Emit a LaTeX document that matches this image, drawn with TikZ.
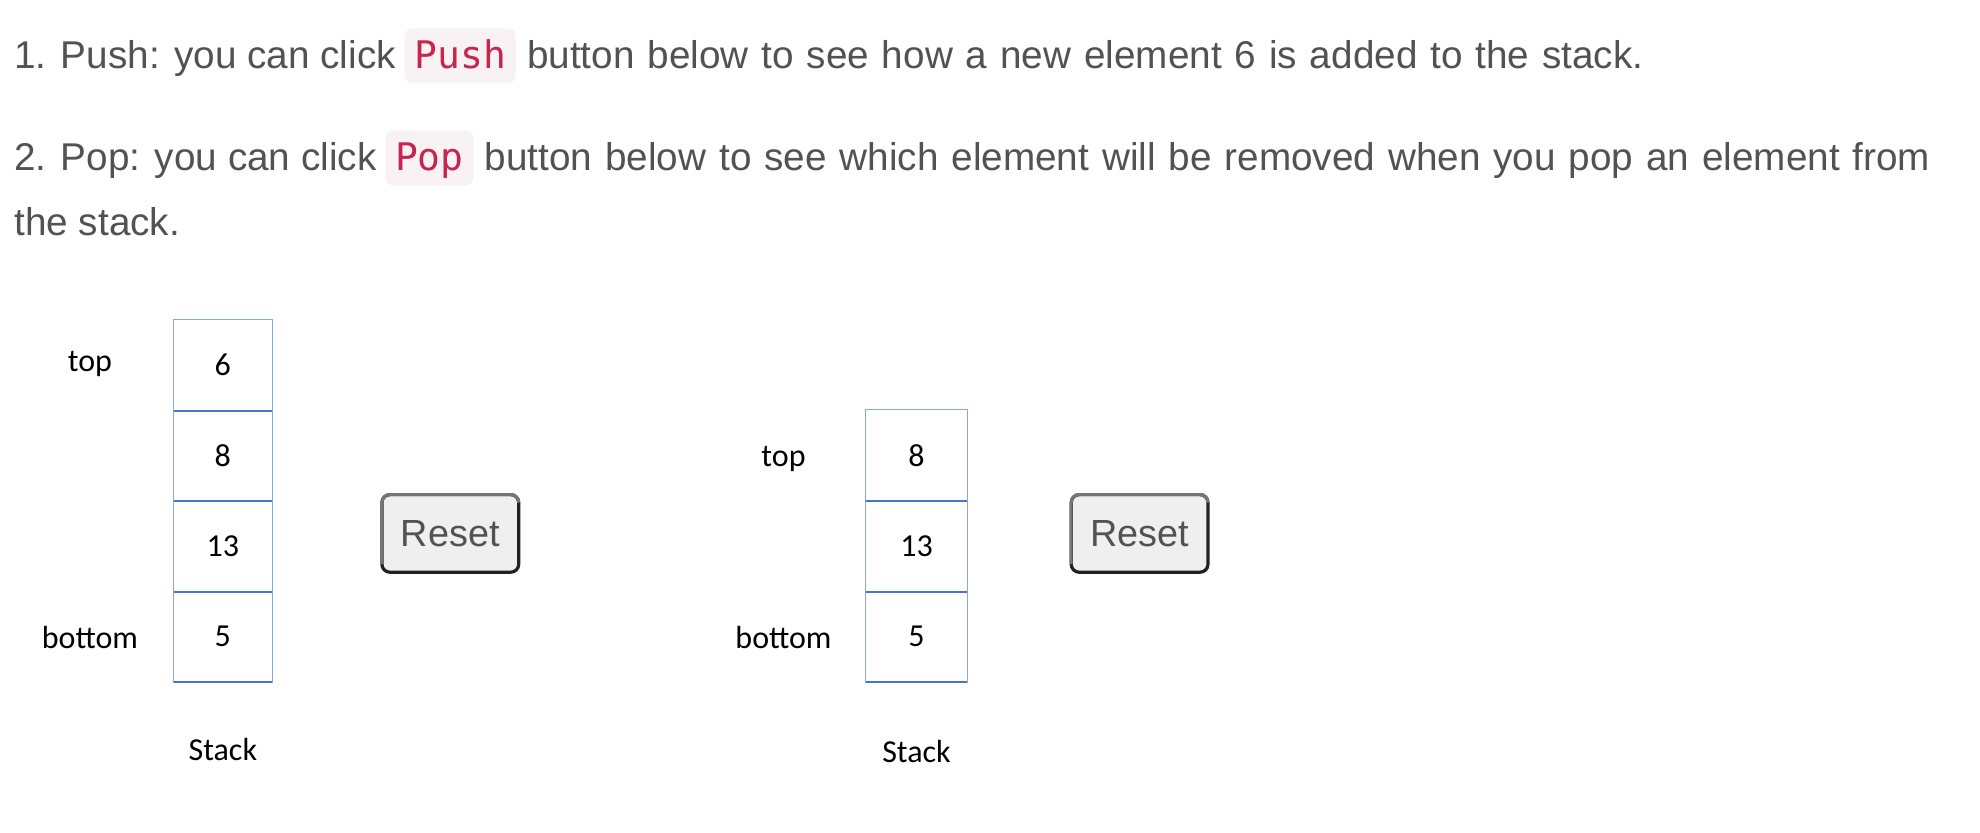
\documentclass[tikz,border=0pt]{standalone}
\usepackage{fontspec}
\setmainfont{Liberation Sans}
\newfontfamily\widefont[WordSpace=1.2]{Liberation Sans}
\newfontfamily\calfont{Carlito}
\newfontfamily\codefont{DejaVu Sans Mono}
\usetikzlibrary{calc}
\definecolor{bodytext}{HTML}{525252}
\definecolor{codefg}{HTML}{C7254E}
\definecolor{codebg}{HTML}{F9F2F4}
\definecolor{cellline}{HTML}{8AA8E6}
\definecolor{cellsep}{HTML}{4D74C8}
\definecolor{btnfill}{HTML}{EFEFEF}
\definecolor{btnlight}{HTML}{767676}
\definecolor{btndark}{HTML}{222222}
\begin{document}
\begin{tikzpicture}[x=0.5pt,y=-0.5pt,
  para/.style={anchor=base west, inner sep=0pt, text=bodytext, font=\fontsize{19.35}{23}\selectfont},
  parawide/.style={para, font=\widefont\fontsize{19.35}{23}\selectfont},
  code/.style={anchor=base west, fill=codebg, text=codefg, rounded corners=4pt, inner xsep=4.9pt, inner ysep=0pt, text height=20pt, text depth=7.5pt, font=\codefont\fontsize{19}{22}\selectfont},
  cellL/.style={minimum width=48.85pt, minimum height=45.25pt, inner sep=0pt, font=\calfont\fontsize{16}{19}\selectfont},
  cellR/.style={cellL, minimum width=50.5pt},
  lab/.style={anchor=base, inner sep=0pt, font=\calfont\fontsize{16}{19}\selectfont},
  outline/.style={draw=cellline, line width=0.6pt},
  sep/.style={draw=cellsep, line width=1pt},
  button/.style={fill=btnfill, rounded corners=4pt, minimum width=68pt, minimum height=38.4pt, inner sep=0pt, text=bodytext, font=\fontsize{18.9}{22}\selectfont},
  btndarkline/.style={draw=btndark, line width=1.6pt, rounded corners=4pt},
  btnlightline/.style={draw=btnlight, line width=1.5pt, rounded corners=4pt}
]
\fill[white] (0,0) rectangle (1980,832);
\useasboundingbox (0,0) rectangle (1980,832);

% paragraph text
\node[para] (l1a) at (14,68.3) {1. Push: you can click};
\node[code] (push) at ($(l1a.base east)+(8,0)$) {Push};
\node[parawide] (l1b) at ($(push.base east)+(10.5,0)$) {button below to see how a new element 6 is added to the stack.};
\node[para] (l2a) at (14,170.5) {2. Pop: you can click};
\node[code] (pop) at ($(l2a.base east)+(8,0)$) {Pop};
\node[parawide] (l2b) at ($(pop.base east)+(10.5,0)$) {button below to see which element will be removed when you pop an element from};
\node[para] (l3) at (14,235) {the stack.};

% left stack
\node[cellL] (a1) at (222.85,364.95) {6};
\node[cellL] (a2) at (222.85,455.45) {8};
\node[cellL] (a3) at (222.85,545.95) {13};
\node[cellL] (a4) at (222.85,636.45) {5};
\draw[outline] (a1.north west) rectangle (a4.south east);
\draw[sep] (a1.south west) -- (a1.south east);
\draw[sep] (a2.south west) -- (a2.south east);
\draw[sep] (a3.south west) -- (a3.south east);
\draw[sep] (a4.south west) -- (a4.south east);
\node[lab] (atop) at ($(90,0 |- a1.base)+(0,-4)$) {top};
\node[lab] (abot) at ($(90,0 |- a4.base)+(0,2)$) {bottom};
\node[lab] (astack) at (a4.south |- 0,760) {Stack};

% left button
\node[button] (b1) at (450.3,533.4) {Reset};
\draw[btndarkline] (b1.north west) rectangle (b1.south east);
\draw[btnlightline] ([yshift=4pt]b1.south west) -- (b1.north west) -- (b1.north east) -- ([yshift=-4pt]b1.north east);

% right stack
\node[cellR] (c2) at (916.5,455.45) {8};
\node[cellR] (c3) at (916.5,545.95) {13};
\node[cellR] (c4) at (916.5,636.45) {5};
\draw[outline] (c2.north west) rectangle (c4.south east);
\draw[sep] (c2.south west) -- (c2.south east);
\draw[sep] (c3.south west) -- (c3.south east);
\draw[sep] (c4.south west) -- (c4.south east);
\node[lab] (ctop) at (783.5,0 |- c2.base) {top};
\node[lab] (cbot) at ($(783.5,0 |- c4.base)+(0,2)$) {bottom};
\node[lab] (cstack) at (c4.south |- 0,762) {Stack};

% right button
\node[button] (b2) at (1139.6,533.4) {Reset};
\draw[btndarkline] (b2.north west) rectangle (b2.south east);
\draw[btnlightline] ([yshift=4pt]b2.south west) -- (b2.north west) -- (b2.north east) -- ([yshift=-4pt]b2.north east);
\end{tikzpicture}
\end{document}
